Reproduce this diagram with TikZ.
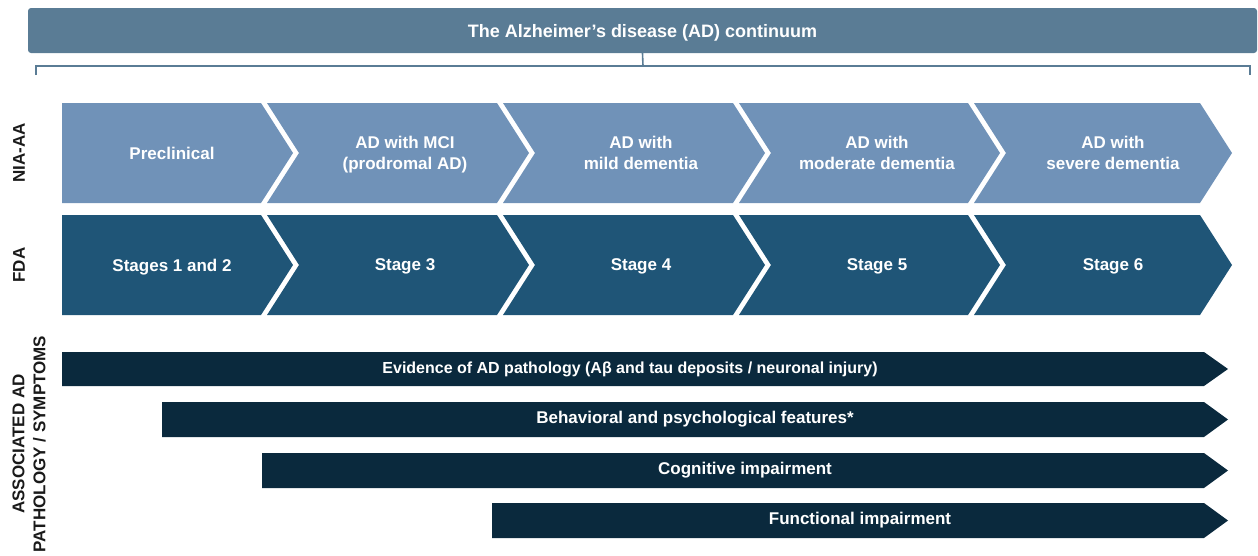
\documentclass[tikz,border=0pt]{standalone}
\usepackage{fontspec}
\setmainfont{Liberation Sans}
\definecolor{bannerblue}{HTML}{5A7C95}
\definecolor{niablue}{HTML}{7092B8}
\definecolor{fdablue}{HTML}{1F5577}
\definecolor{bardark}{HTML}{0A293D}
\definecolor{labelgray}{HTML}{1A1A1A}
\begin{document}
\begin{tikzpicture}[
	x=1pt, y=-1pt,
	banner/.style={rectangle, rounded corners=3pt, fill=bannerblue, text=white, font=\bfseries\fontsize{18}{21}\selectfont, minimum width=1229pt, minimum height=45pt, inner sep=0pt, text depth=0pt},
	bracket/.style={draw=bannerblue, line width=1.6pt},
	stagetext/.style={text=white, align=center, text depth=0pt, font=\bfseries\fontsize{17}{21}\selectfont},
	rowlabel/.style={rotate=90, text=labelgray, align=center, font=\bfseries\fontsize{17}{21}\selectfont},
	bartext/.style={text=white, font=\bfseries\fontsize{17}{21}\selectfont}
	]
	\useasboundingbox (0,0) rectangle (1258,555);
	
	% title and bracket
	\node[banner] (title) at (642.5,30.5) {The Alzheimer’s disease (AD) continuum};
	\coordinate (brl) at (36,75);
	\coordinate (brm) at (643,66);
	\coordinate (brr) at (1250,75);
	\draw[bracket] (brl) |- (brm) -| (brr);
	\draw[bracket] (title.south) -- (brm);
	
	% chevron rows
	\foreach \xl/\xr/\dl in {62/261/0, 267/497/32, 503/733/32, 739/968/32, 974/1200/32} {
		\fill[niablue] (\xl,103) -- (\xr,103) -- (\xr+32,153) -- (\xr,203) -- (\xl,203) -- (\xl+\dl,153) -- cycle;
		\fill[fdablue] (\xl,215) -- (\xr,215) -- (\xr+32,265) -- (\xr,315) -- (\xl,315) -- (\xl+\dl,265) -- cycle;
	}
	
	\node[stagetext] (precl) at (172,153) {Preclinical};
	\node[stagetext] (mci) at (405,153) {AD with MCI\\(prodromal AD)};
	\node[stagetext] (mild) at (641,153) {AD with\\mild dementia};
	\node[stagetext] (moder) at (877,153) {AD with\\moderate dementia};
	\node[stagetext] (severe) at (1113,153) {AD with\\severe dementia};
	
	\node[stagetext] (stonetwo) at (172,265) {Stages 1 and 2};
	\node[stagetext] (stthree) at (405,265) {Stage 3};
	\node[stagetext] (stfour) at (641,265) {Stage 4};
	\node[stagetext] (stfive) at (877,265) {Stage 5};
	\node[stagetext] (stsix) at (1113,265) {Stage 6};
	
	% row labels
	\node[rowlabel] (nia) at (19,153) {NIA-AA};
	\node[rowlabel] (fda) at (19,265) {FDA};
	\node[rowlabel] (assoc) at (29,444) {ASSOCIATED AD\\PATHOLOGY / SYMPTOMS};
	
	% pathology / symptom bars
	\foreach \xl/\ya/\yb in {62/352/386, 162/402/437, 262/453/488, 492/503/538} {
		\fill[bardark] (\xl,\ya) -- (1204,\ya) -- (1228,{(\ya+\yb)/2}) -- (1204,\yb) -- (\xl,\yb) -- cycle;
	}
	\node[bartext, font=\bfseries\fontsize{16}{20}\selectfont] (evid) at (630,369) {Evidence of AD pathology (Aβ and tau deposits / neuronal injury)};
	\node[bartext] (behav) at (695,419.5) {Behavioral and psychological features*};
	\node[bartext] (cogn) at (745,470.5) {Cognitive impairment};
	\node[bartext] (funct) at (860,520.5) {Functional impairment};
\end{tikzpicture}
\end{document}
